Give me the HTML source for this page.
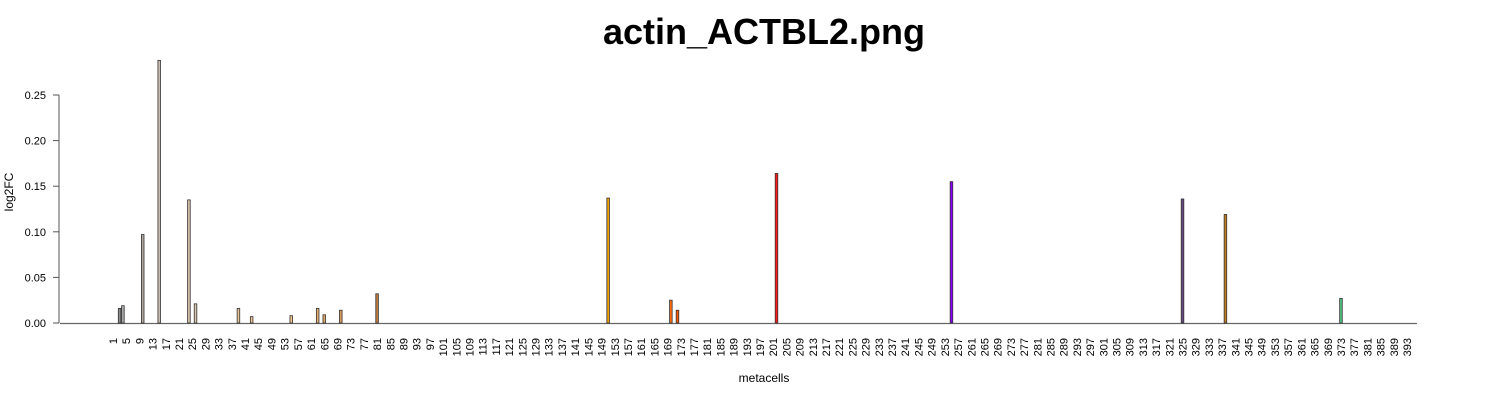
<!DOCTYPE html>
<html><head><meta charset="utf-8"><style>
body{margin:0;background:#fff;width:1500px;height:400px;overflow:hidden}
svg text{font-family:"Liberation Sans",sans-serif}
</style></head><body>
<svg id="chart" width="1500" height="400" xmlns="http://www.w3.org/2000/svg">
<text x="764" y="44" text-anchor="middle" font-size="36" font-weight="bold">actin_ACTBL2.png</text>
<text transform="translate(13,192) rotate(-90)" text-anchor="middle" font-size="12">log2FC</text>
<text x="764" y="382" text-anchor="middle" font-size="12">metacells</text>
<g id="yaxis"></g>
<g id="xaxis"></g>
<g id="bars"></g>
</svg>
<script>
const nBars = 396;
const barIndex = [3,4,10,15,24,26,39,43,55,63,65,70,81,151,170,172,202,255,325,338,373];
const barValues = [0.016,0.019,0.097,0.288,0.135,0.021,0.016,0.007,0.008,0.016,0.009,0.014,0.032,0.137,0.025,0.014,0.164,0.155,0.136,0.119,0.027];
const barColors = ["#8c8c8c","#a8a8a8","#b0a8a0","#c8bcb0","#d4c0a8","#d8c4a8","#e8c498","#ecc090","#f0c088","#e8b070","#e0a868","#d89a58","#c0783c","#f0a000","#ff6a10","#ff5a00","#ff1a1a","#8a00ff","#6a4a80","#c07a20","#50c080"];
const yTicks = [0,0.05,0.10,0.15,0.20,0.25];
const yTickLabels = ["0.00","0.05","0.10","0.15","0.20","0.25"];

const NS="http://www.w3.org/2000/svg";
const y0=323, pxPerUnit=912;
const yScale=v=>y0-v*pxPerUnit;
const x0=113, step=3.301;
const xScale=i=>x0+(i-1)*step;
function mk(tag,attrs,parent){const e=document.createElementNS(NS,tag);for(const k in attrs)e.setAttribute(k,attrs[k]);parent.appendChild(e);return e;}

const ya=document.getElementById('yaxis');
const yl=mk('line',{x1:59,x2:59,y1:yScale(0.25),y2:yScale(0),stroke:'#555','stroke-width':1},ya);


yTicks.forEach((t,k)=>{
  const tk=mk('line',{x1:53,x2:59,y1:yScale(t),y2:yScale(t),stroke:'#555'},ya);
  
  
  const tx=mk('text',{x:46,y:yScale(t)+4,'text-anchor':'end','font-size':11},ya);
  tx.textContent=yTickLabels[k];
  
  
});

const xa=document.getElementById('xaxis');
const bl=mk('line',{x1:60,x2:1417,y1:y0+0.5,y2:y0+0.5,stroke:'#666','stroke-width':1.2},xa);


for(let i=1;i<=nBars;i+=4){
  const x=xScale(i);
  const t=mk('text',{transform:`translate(${x+4},338) rotate(-90)`,'text-anchor':'end','font-size':11},xa);
  t.textContent=String(i);
  
  
}

const bg=document.getElementById('bars');
barIndex.forEach((idx,k)=>{
  const v=barValues[k];
  const x=xScale(idx);
  const r=mk('rect',{x:x-1.3,y:yScale(v),width:2.6,height:y0-yScale(v),fill:barColors[k],stroke:'#333','stroke-width':0.8},bg);
  
  
});
</script>
</body></html>
